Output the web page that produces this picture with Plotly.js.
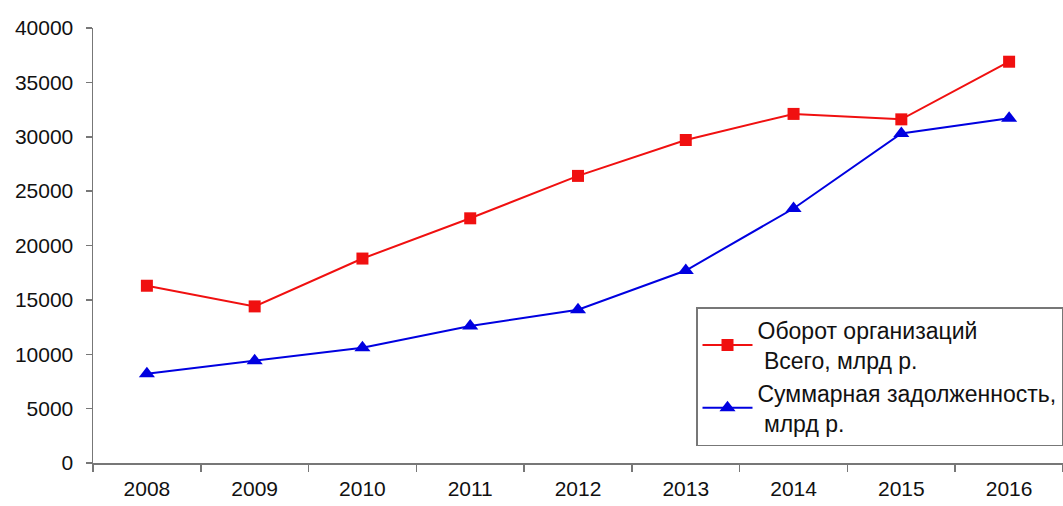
<!DOCTYPE html>
<html>
<head>
<meta charset="utf-8">
<script src="https://cdn.plot.ly/plotly-3.0.1.min.js"></script>
<style>html,body{margin:0;padding:0;background:#fff;}#chart{width:1063px;height:506px;}</style>
</head>
<body>
<div id="chart"></div>
<script>
const years = ['2008','2009','2010','2011','2012','2013','2014','2015','2016'];
const turnover = [16300, 14400, 18800, 22500, 26400, 29700, 32100, 31600, 36900];
const debt = [8200, 9400, 10600, 12600, 14100, 17700, 23400, 30300, 31700];
const name1 = 'Оборот организаций<br>\u00a0Всего, млрд р.';
const name2 = 'Суммарная задолженность,<br>\u00a0млрд р.';

const font = 'Liberation Sans, Arial, sans-serif';
const traces = [
  {x: years, y: turnover, name: name1, type: 'scatter', mode: 'lines+markers',
   line: {color: '#f01010', width: 2}, marker: {symbol: 'square', size: 12, color: '#f01010'}},
  {x: years, y: debt, name: name2, type: 'scatter', mode: 'lines+markers',
   line: {color: '#0000e0', width: 2}, marker: {symbol: 'triangle-up', size: 14, color: '#0000e0'}}
];
const layout = {
  width: 1063, height: 506,
  margin: {l: 93, r: 0, t: 28, b: 43},
  paper_bgcolor: '#fff', plot_bgcolor: '#fff',
  font: {family: font, size: 21, color: '#111'},
  showlegend: true,
  legend: {x: 1, xanchor: 'right', y: 0.039, yanchor: 'bottom',
    bordercolor: '#777', borderwidth: 1.5, bgcolor: '#fff',
    font: {family: font, size: 23, color: '#111'}, itemwidth: 50},
  xaxis: {type: 'category', tickson: 'boundaries', ticks: 'outside', ticklen: 7,
    tickcolor: '#777', tickwidth: 1.5, showline: true, linecolor: '#777', linewidth: 1.5,
    showgrid: false, zeroline: false, range: [-0.5, 8.5], fixedrange: true, ticklabelstandoff: 6},
  yaxis: {range: [0, 40000], dtick: 5000, tickformat: 'd', ticks: 'outside', ticklen: 6,
    tickcolor: '#777', tickwidth: 1.5, showline: true, linecolor: '#777', linewidth: 1.5,
    showgrid: false, zeroline: false, ticklabelstandoff: 8}
};
Plotly.newPlot('chart', traces, layout, {displayModeBar: false, staticPlot: true});
</script>
</body>
</html>
